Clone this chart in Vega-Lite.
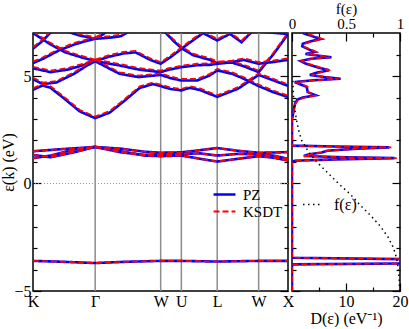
{
"$schema":"https://vega.github.io/schema/vega-lite/v6.json",
"padding":{"left":0,"top":0,"right":0,"bottom":0},
"bounds":"flush",
"spacing":4,
"resolve":{"scale":{"color":"independent","strokeDash":"independent","strokeWidth":"independent"}},
"config":{
 "font":"Liberation Serif",
 "view":{"stroke":"black","strokeWidth":1.5},
 "axis":{"labelFont":"Liberation Serif","titleFont":"Liberation Serif","labelFontSize":16,"titleFontSize":16,"titleFontWeight":"normal","labelColor":"black","titleColor":"black","tickColor":"black","tickWidth":1.2,"domain":false,"grid":false},
 "legend":{"labelFont":"Liberation Serif","labelFontSize":16,"labelColor":"black"}
},
"datasets":{
 "sym":[{"k":1.061},{"k":2.179},{"k":2.532},{"k":3.144},{"k":3.851}],
 "bands":[
  {"b":"f","k":0,"PZ":-3.6,"KSDT":-3.6},{"b":"f","k":0.5,"PZ":-3.64,"KSDT":-3.64},{"b":"f","k":1.061,"PZ":-3.7,"KSDT":-3.7},{"b":"f","k":1.6,"PZ":-3.64,"KSDT":-3.64},{"b":"f","k":2.179,"PZ":-3.6,"KSDT":-3.6},{"b":"f","k":2.532,"PZ":-3.6,"KSDT":-3.6},{"b":"f","k":3.144,"PZ":-3.63,"KSDT":-3.63},{"b":"f","k":3.851,"PZ":-3.6,"KSDT":-3.6},{"b":"f","k":4.352,"PZ":-3.6,"KSDT":-3.6},
  {"b":"d1","k":0,"PZ":1.18,"KSDT":1.18},{"b":"d1","k":0.3,"PZ":1.3,"KSDT":1.3},{"b":"d1","k":0.7,"PZ":1.58,"KSDT":1.58},{"b":"d1","k":1.061,"PZ":1.7,"KSDT":1.7},{"b":"d1","k":1.5,"PZ":1.5,"KSDT":1.5},{"b":"d1","k":1.9,"PZ":1.3,"KSDT":1.3},{"b":"d1","k":2.179,"PZ":1.27,"KSDT":1.27},{"b":"d1","k":2.532,"PZ":1.3,"KSDT":1.3},{"b":"d1","k":2.85,"PZ":1.15,"KSDT":1.15},{"b":"d1","k":3.144,"PZ":1.02,"KSDT":1.02},{"b":"d1","k":3.5,"PZ":1.15,"KSDT":1.15},{"b":"d1","k":3.851,"PZ":1.27,"KSDT":1.27},{"b":"d1","k":4.1,"PZ":1.2,"KSDT":1.2},{"b":"d1","k":4.352,"PZ":1.07,"KSDT":1.07},
  {"b":"d2","k":0,"PZ":1.33,"KSDT":1.33},{"b":"d2","k":0.3,"PZ":1.22,"KSDT":1.22},{"b":"d2","k":0.7,"PZ":1.45,"KSDT":1.45},{"b":"d2","k":1.061,"PZ":1.7,"KSDT":1.7},{"b":"d2","k":1.5,"PZ":1.45,"KSDT":1.45},{"b":"d2","k":1.9,"PZ":1.33,"KSDT":1.33},{"b":"d2","k":2.179,"PZ":1.35,"KSDT":1.35},{"b":"d2","k":2.532,"PZ":1.38,"KSDT":1.38},{"b":"d2","k":2.85,"PZ":1.4,"KSDT":1.4},{"b":"d2","k":3.144,"PZ":1.3,"KSDT":1.3},{"b":"d2","k":3.5,"PZ":1.38,"KSDT":1.38},{"b":"d2","k":3.851,"PZ":1.35,"KSDT":1.35},{"b":"d2","k":4.1,"PZ":1.3,"KSDT":1.3},{"b":"d2","k":4.352,"PZ":1.15,"KSDT":1.15},
  {"b":"d3","k":0,"PZ":1.5,"KSDT":1.5},{"b":"d3","k":0.5,"PZ":1.6,"KSDT":1.6},{"b":"d3","k":1.061,"PZ":1.7,"KSDT":1.7},{"b":"d3","k":1.5,"PZ":1.62,"KSDT":1.62},{"b":"d3","k":1.9,"PZ":1.48,"KSDT":1.48},{"b":"d3","k":2.179,"PZ":1.43,"KSDT":1.43},{"b":"d3","k":2.532,"PZ":1.45,"KSDT":1.45},{"b":"d3","k":2.85,"PZ":1.55,"KSDT":1.55},{"b":"d3","k":3.144,"PZ":1.65,"KSDT":1.65},{"b":"d3","k":3.5,"PZ":1.52,"KSDT":1.52},{"b":"d3","k":3.851,"PZ":1.43,"KSDT":1.43},{"b":"d3","k":4.1,"PZ":1.44,"KSDT":1.44},{"b":"d3","k":4.352,"PZ":1.46,"KSDT":1.46},
  {"b":"c1","k":0,"PZ":4.36,"KSDT":4.43},{"b":"c1","k":0.166,"PZ":4.56,"KSDT":4.63},{"b":"c1","k":0.3,"PZ":4.45,"KSDT":4.52},{"b":"c1","k":0.51,"PZ":4.0,"KSDT":4.07},{"b":"c1","k":0.8,"PZ":3.35,"KSDT":3.42},{"b":"c1","k":1.061,"PZ":3.04,"KSDT":3.11},{"b":"c1","k":1.31,"PZ":3.3,"KSDT":3.37},{"b":"c1","k":1.567,"PZ":3.86,"KSDT":3.93},{"b":"c1","k":1.823,"PZ":4.45,"KSDT":4.52},{"b":"c1","k":2.045,"PZ":4.62,"KSDT":4.69},{"b":"c1","k":2.179,"PZ":4.53,"KSDT":4.6},{"b":"c1","k":2.336,"PZ":4.4,"KSDT":4.47},{"b":"c1","k":2.532,"PZ":4.33,"KSDT":4.4},{"b":"c1","k":2.675,"PZ":4.45,"KSDT":4.52},{"b":"c1","k":2.847,"PZ":4.35,"KSDT":4.42},{"b":"c1","k":3.144,"PZ":4.03,"KSDT":4.1},{"b":"c1","k":3.5,"PZ":4.41,"KSDT":4.48},{"b":"c1","k":3.851,"PZ":5.05,"KSDT":5.12},{"b":"c1","k":4.1,"PZ":4.8,"KSDT":4.87},{"b":"c1","k":4.352,"PZ":4.54,"KSDT":4.61},
  {"b":"u1","k":0,"PZ":7.0,"KSDT":7.07},{"b":"u1","k":0.28,"PZ":6.5,"KSDT":6.57},{"b":"u1","k":0.55,"PZ":6.1,"KSDT":6.17},{"b":"u1","k":0.85,"PZ":5.85,"KSDT":5.92},{"b":"u1","k":1.061,"PZ":5.69,"KSDT":5.76},
  {"b":"u2","k":0,"PZ":6.27,"KSDT":6.34},{"b":"u2","k":0.15,"PZ":6.6,"KSDT":6.67},{"b":"u2","k":0.31,"PZ":7.05,"KSDT":7.12},
  {"b":"u3","k":0,"PZ":5.36,"KSDT":5.43},{"b":"u3","k":0.3,"PZ":5.18,"KSDT":5.25},{"b":"u3","k":0.6,"PZ":5.3,"KSDT":5.37},{"b":"u3","k":0.85,"PZ":5.5,"KSDT":5.57},{"b":"u3","k":1.061,"PZ":5.69,"KSDT":5.76},
  {"b":"u4","k":0,"PZ":5.6,"KSDT":5.67},{"b":"u4","k":0.17,"PZ":5.8,"KSDT":5.87},{"b":"u4","k":0.45,"PZ":6.2,"KSDT":6.27},{"b":"u4","k":0.74,"PZ":6.5,"KSDT":6.57},{"b":"u4","k":1.061,"PZ":6.73,"KSDT":6.8},
  {"b":"u5","k":0,"PZ":4.85,"KSDT":4.92},{"b":"u5","k":0.17,"PZ":4.62,"KSDT":4.69},{"b":"u5","k":0.4,"PZ":4.7,"KSDT":4.77},{"b":"u5","k":0.7,"PZ":5.1,"KSDT":5.17},{"b":"u5","k":0.9,"PZ":5.45,"KSDT":5.52},{"b":"u5","k":1.061,"PZ":5.69,"KSDT":5.76},
  {"b":"u6","k":0.6,"PZ":7.05,"KSDT":7.12},{"b":"u6","k":0.8,"PZ":6.88,"KSDT":6.95},{"b":"u6","k":1.061,"PZ":6.73,"KSDT":6.8},
  {"b":"r0","k":1.061,"PZ":6.73,"KSDT":6.8},{"b":"r0","k":1.15,"PZ":6.85,"KSDT":6.92},{"b":"r0","k":1.25,"PZ":7.05,"KSDT":7.12},
  {"b":"r1","k":1.061,"PZ":6.73,"KSDT":6.8},{"b":"r1","k":1.3,"PZ":6.78,"KSDT":6.85},{"b":"r1","k":1.5,"PZ":6.85,"KSDT":6.92},{"b":"r1","k":1.62,"PZ":7.05,"KSDT":7.12},
  {"b":"r2","k":1.061,"PZ":5.69,"KSDT":5.76},{"b":"r2","k":1.3,"PZ":5.9,"KSDT":5.97},{"b":"r2","k":1.55,"PZ":6.05,"KSDT":6.12},{"b":"r2","k":1.75,"PZ":6.1,"KSDT":6.17},{"b":"r2","k":2.0,"PZ":5.75,"KSDT":5.82},{"b":"r2","k":2.179,"PZ":5.57,"KSDT":5.64},{"b":"r2","k":2.35,"PZ":5.88,"KSDT":5.95},{"b":"r2","k":2.532,"PZ":6.26,"KSDT":6.33},{"b":"r2","k":2.75,"PZ":6.7,"KSDT":6.77},{"b":"r2","k":2.93,"PZ":7.05,"KSDT":7.12},
  {"b":"r3","k":1.061,"PZ":5.69,"KSDT":5.76},{"b":"r3","k":1.48,"PZ":5.49,"KSDT":5.56},{"b":"r3","k":1.8,"PZ":5.3,"KSDT":5.37},{"b":"r3","k":2.179,"PZ":5.18,"KSDT":5.25},{"b":"r3","k":2.3,"PZ":5.28,"KSDT":5.35},{"b":"r3","k":2.532,"PZ":5.41,"KSDT":5.48},{"b":"r3","k":2.8,"PZ":5.5,"KSDT":5.57},{"b":"r3","k":3.02,"PZ":5.52,"KSDT":5.59},{"b":"r3","k":3.144,"PZ":5.57,"KSDT":5.64},{"b":"r3","k":3.4,"PZ":5.65,"KSDT":5.72},{"b":"r3","k":3.6,"PZ":5.75,"KSDT":5.82},{"b":"r3","k":3.851,"PZ":5.57,"KSDT":5.64},{"b":"r3","k":4.1,"PZ":5.65,"KSDT":5.72},{"b":"r3","k":4.352,"PZ":5.75,"KSDT":5.82},
  {"b":"r4","k":1.061,"PZ":5.69,"KSDT":5.76},{"b":"r4","k":1.3,"PZ":5.35,"KSDT":5.42},{"b":"r4","k":1.48,"PZ":5.1,"KSDT":5.17},{"b":"r4","k":1.8,"PZ":4.95,"KSDT":5.02},{"b":"r4","k":2.179,"PZ":5.05,"KSDT":5.12},{"b":"r4","k":2.35,"PZ":4.9,"KSDT":4.97},{"b":"r4","k":2.532,"PZ":4.79,"KSDT":4.86},{"b":"r4","k":2.8,"PZ":4.79,"KSDT":4.86},{"b":"r4","k":3.02,"PZ":5.03,"KSDT":5.1},{"b":"r4","k":3.144,"PZ":5.26,"KSDT":5.33},{"b":"r4","k":3.4,"PZ":5.1,"KSDT":5.17},{"b":"r4","k":3.6,"PZ":4.87,"KSDT":4.94},{"b":"r4","k":3.851,"PZ":4.53,"KSDT":4.6},{"b":"r4","k":4.1,"PZ":4.25,"KSDT":4.32},{"b":"r4","k":4.352,"PZ":4.02,"KSDT":4.09},
  {"b":"r5","k":2.25,"PZ":7.05,"KSDT":7.12},{"b":"r5","k":2.39,"PZ":6.65,"KSDT":6.72},{"b":"r5","k":2.532,"PZ":6.3,"KSDT":6.37},{"b":"r5","k":2.73,"PZ":5.97,"KSDT":6.04},{"b":"r5","k":3.02,"PZ":5.75,"KSDT":5.82},{"b":"r5","k":3.144,"PZ":5.6,"KSDT":5.67},{"b":"r5","k":3.4,"PZ":5.62,"KSDT":5.69},{"b":"r5","k":3.6,"PZ":5.45,"KSDT":5.52},{"b":"r5","k":3.851,"PZ":5.18,"KSDT":5.25},{"b":"r5","k":4.1,"PZ":6.0,"KSDT":6.07},{"b":"r5","k":4.352,"PZ":6.95,"KSDT":7.02},
  {"b":"r6","k":2.9,"PZ":7.05,"KSDT":7.12},{"b":"r6","k":2.93,"PZ":6.96,"KSDT":7.03},{"b":"r6","k":3.144,"PZ":6.65,"KSDT":6.72},{"b":"r6","k":3.36,"PZ":6.96,"KSDT":7.03},{"b":"r6","k":3.56,"PZ":6.57,"KSDT":6.64},{"b":"r6","k":3.73,"PZ":7.05,"KSDT":7.12},
  {"b":"r7","k":3.95,"PZ":7.05,"KSDT":7.12},{"b":"r7","k":4.352,"PZ":6.95,"KSDT":7.02}
 ],
 "dos":[
  {"e":7.0,"PZ":2.0,"KSDT":2.3},{"e":6.9,"PZ":3.2,"KSDT":3.6},{"e":6.8,"PZ":4.3,"KSDT":4.8},{"e":6.72,"PZ":5.3,"KSDT":5.6},{"e":6.62,"PZ":3.5,"KSDT":3.9},{"e":6.5,"PZ":2.0,"KSDT":2.4},{"e":6.38,"PZ":1.9,"KSDT":2.1},{"e":6.25,"PZ":3.0,"KSDT":3.3},{"e":6.12,"PZ":4.2,"KSDT":4.5},{"e":6.02,"PZ":2.5,"KSDT":2.8},{"e":5.94,"PZ":5.0,"KSDT":5.4},{"e":5.87,"PZ":7.3,"KSDT":7.0},{"e":5.8,"PZ":3.5,"KSDT":3.8},{"e":5.7,"PZ":1.6,"KSDT":1.8},{"e":5.58,"PZ":2.5,"KSDT":2.8},{"e":5.48,"PZ":3.8,"KSDT":4.2},{"e":5.38,"PZ":5.0,"KSDT":5.4},{"e":5.27,"PZ":6.9,"KSDT":6.7},{"e":5.15,"PZ":4.5,"KSDT":5.0},{"e":5.05,"PZ":3.3,"KSDT":3.6},{"e":4.95,"PZ":6.0,"KSDT":6.5},{"e":4.87,"PZ":9.0,"KSDT":8.6},{"e":4.8,"PZ":4.0,"KSDT":4.5},{"e":4.72,"PZ":0.5,"KSDT":0.7},{"e":4.62,"PZ":1.5,"KSDT":1.7},{"e":4.5,"PZ":2.7,"KSDT":2.9},{"e":4.4,"PZ":2.8,"KSDT":2.9},{"e":4.25,"PZ":2.9,"KSDT":3.0},{"e":4.1,"PZ":4.4,"KSDT":4.3},{"e":4.0,"PZ":2.0,"KSDT":2.4},{"e":3.9,"PZ":1.0,"KSDT":1.2},{"e":3.7,"PZ":0.55,"KSDT":0.6},{"e":3.4,"PZ":0.3,"KSDT":0.35},{"e":3.1,"PZ":0.1,"KSDT":0.1},{"e":3.0,"PZ":0,"KSDT":0},{"e":1.76,"PZ":0,"KSDT":0},{"e":1.72,"PZ":8,"KSDT":8},{"e":1.68,"PZ":18,"KSDT":18.4},{"e":1.62,"PZ":12,"KSDT":12},{"e":1.52,"PZ":6.5,"KSDT":6.5},{"e":1.44,"PZ":5.5,"KSDT":5.5},{"e":1.35,"PZ":3,"KSDT":3},{"e":1.28,"PZ":2.2,"KSDT":2.2},{"e":1.22,"PZ":10,"KSDT":10},{"e":1.18,"PZ":19,"KSDT":19.4},{"e":1.12,"PZ":8,"KSDT":8},{"e":1.06,"PZ":0.5,"KSDT":0.5},{"e":1.0,"PZ":0,"KSDT":0},{"e":-3.45,"PZ":0,"KSDT":0},{"e":-3.55,"PZ":30,"KSDT":30},{"e":-3.62,"PZ":40,"KSDT":40},{"e":-3.7,"PZ":30,"KSDT":30},{"e":-3.76,"PZ":0,"KSDT":0},{"e":-5,"PZ":0,"KSDT":0}
 ],
 "fermi":[
  {"e":5.0,"f":0.007,"lab":"f(ε)"},{"e":4.5,"f":0.01,"lab":"f(ε)"},{"e":4.0,"f":0.015,"lab":"f(ε)"},{"e":3.5,"f":0.025,"lab":"f(ε)"},{"e":3.0,"f":0.04,"lab":"f(ε)"},{"e":2.5,"f":0.06,"lab":"f(ε)"},{"e":2.0,"f":0.09,"lab":"f(ε)"},{"e":1.5,"f":0.15,"lab":"f(ε)"},{"e":1.0,"f":0.23,"lab":"f(ε)"},{"e":0.5,"f":0.33,"lab":"f(ε)"},{"e":0.0,"f":0.43,"lab":"f(ε)"},{"e":-0.5,"f":0.54,"lab":"f(ε)"},{"e":-1.0,"f":0.63,"lab":"f(ε)"},{"e":-1.5,"f":0.73,"lab":"f(ε)"},{"e":-2.0,"f":0.82,"lab":"f(ε)"},{"e":-2.5,"f":0.89,"lab":"f(ε)"},{"e":-3.0,"f":0.94,"lab":"f(ε)"},{"e":-3.5,"f":0.97,"lab":"f(ε)"},{"e":-4.0,"f":0.985,"lab":"f(ε)"},{"e":-4.5,"f":0.993,"lab":"f(ε)"},{"e":-5.0,"f":0.997,"lab":"f(ε)"}
 ]
},
"hconcat":[
 {
  "width":255,"height":258,
  "resolve":{"axis":{"x":"independent","y":"independent"}},
  "layer":[
   {"data":{"name":"sym"},"mark":{"type":"rule","color":"#8c8c8c","strokeWidth":1.5},
    "encoding":{"x":{"field":"k","type":"quantitative","scale":{"domain":[0,4.352],"nice":false,"zero":false},"axis":null}}},
   {"data":{"values":[{"e":0}]},"mark":{"type":"rule","color":"#999999","strokeDash":[1,2],"strokeWidth":1.2},
    "encoding":{"y":{"field":"e","type":"quantitative","scale":{"domain":[-5,7],"nice":false,"zero":false},"axis":null}}},
   {"data":{"name":"bands"},"transform":[{"fold":["PZ","KSDT"],"as":["s","e"]},{"filter":"datum.s==='PZ'"}],
    "mark":{"type":"line","clip":true},
    "encoding":{"x":{"field":"k","type":"quantitative",
      "axis":{"orient":"bottom","values":[0,1.061,2.179,2.532,3.144,3.851,4.352],"labelExpr":"datum.value==0?'K':datum.value==1.061?'Γ':datum.value==2.179?'W':datum.value==2.532?'U':datum.value==3.144?'L':datum.value==3.851?'W':'X'","ticks":false,"labelPadding":2,"title":null,"labelFlush":false,"labelOverlap":false}},
     "y":{"field":"e","type":"quantitative","axis":{"orient":"left","values":[-5,0,5],"tickSize":-8,"labelPadding":10,"title":"ε(k) (eV)","titlePadding":-3}},
     "detail":{"field":"b"},"order":{"field":"k","type":"quantitative"},
     "color":{"field":"s","type":"nominal","scale":{"domain":["PZ","KSDT"],"range":["#0000ff","#ff0000"]},"legend":{"orient":"none","legendX":179,"legendY":155,"title":null,"symbolType":"stroke","symbolSize":480,"clipHeight":13,"rowPadding":1,"labelOffset":6,"labelFontSize":15}},
     "strokeDash":{"field":"s","type":"nominal","scale":{"domain":["PZ","KSDT"],"range":[[1,0],[6,3]]}},
     "strokeWidth":{"field":"s","type":"nominal","scale":{"domain":["PZ","KSDT"],"range":[2.6,1.8]}}}},
   {"data":{"name":"bands"},"transform":[{"fold":["PZ","KSDT"],"as":["s","e"]},{"filter":"datum.s==='KSDT'"}],
    "mark":{"type":"line","clip":true},
    "encoding":{"x":{"field":"k","type":"quantitative","axis":null},
     "y":{"field":"e","type":"quantitative","axis":{"orient":"left","values":[-4,-3,-2,-1,1,2,3,4,6],"tickSize":-4,"labels":false,"title":null}},
     "detail":{"field":"b"},"order":{"field":"k","type":"quantitative"},
     "color":{"field":"s","type":"nominal","scale":{"domain":["PZ","KSDT"],"range":["#0000ff","#ff0000"]}},
     "strokeDash":{"field":"s","type":"nominal","scale":{"domain":["PZ","KSDT"],"range":[[1,0],[6,3]]}},
     "strokeWidth":{"field":"s","type":"nominal","scale":{"domain":["PZ","KSDT"],"range":[2.6,1.8]}}}},
   {"data":{"values":[{"k":0,"e":0}]},"mark":{"type":"point","opacity":0},
    "encoding":{"x":{"field":"k","type":"quantitative","axis":null},
     "y":{"field":"e","type":"quantitative","axis":{"orient":"right","values":[-5,0,5],"tickSize":-8,"labels":false,"title":null}}}},
   {"data":{"values":[{"k":0,"e":0}]},"mark":{"type":"point","opacity":0},
    "encoding":{"x":{"field":"k","type":"quantitative","axis":null},
     "y":{"field":"e","type":"quantitative","axis":{"orient":"right","values":[-4,-3,-2,-1,1,2,3,4,6],"tickSize":-4,"labels":false,"title":null}}}}
  ]
 },
 {
  "width":108,"height":258,
  "resolve":{"scale":{"x":"independent","strokeDash":"independent"},"axis":{"x":"independent","y":"independent"}},
  "layer":[
   {"data":{"name":"dos"},"transform":[{"fold":["PZ","KSDT"],"as":["s","d"]},{"filter":"datum.s==='PZ'"}],
    "mark":{"type":"line","clip":true,"color":"#0000ff","strokeWidth":2.6},
    "encoding":{"x":{"field":"d","type":"quantitative","scale":{"domain":[0,20],"nice":false,"zero":false},"axis":{"orient":"bottom","values":[10,20],"tickSize":-8,"labelPadding":10,"labelFlush":false,"title":"D(ε)  (eV⁻¹)","titlePadding":1}},
     "y":{"field":"e","type":"quantitative","scale":{"domain":[-5,7],"nice":false,"zero":false},"axis":{"orient":"left","values":[-5,0,5],"tickSize":-8,"labels":false,"title":null}},
     "order":{"field":"e","type":"quantitative"}}},
   {"data":{"name":"dos"},"transform":[{"fold":["PZ","KSDT"],"as":["s","d"]},{"filter":"datum.s==='KSDT'"}],
    "mark":{"type":"line","clip":true,"color":"#ff0000","strokeWidth":1.8,"strokeDash":[6,3]},
    "encoding":{"x":{"field":"d","type":"quantitative","scale":{"domain":[0,20],"nice":false,"zero":false},"axis":{"orient":"bottom","values":[5,15],"tickSize":-4,"labels":false,"title":null}},
     "y":{"field":"e","type":"quantitative","axis":{"orient":"left","values":[-4,-3,-2,-1,1,2,3,4,6],"tickSize":-4,"labels":false,"title":null}},
     "order":{"field":"e","type":"quantitative"}}},
   {"data":{"name":"fermi"},
    "mark":{"type":"line","color":"black","strokeWidth":1.5},
    "encoding":{"x":{"field":"f","type":"quantitative","scale":{"domain":[0,1],"nice":false,"zero":false},"axis":{"orient":"top","values":[0,0.5,1],"format":"~g","tickSize":-8,"labelPadding":10,"labelFlush":false,"labelFontSize":15,"title":"f(ε)","titleFontSize":15,"titlePadding":0}},
     "y":{"field":"e","type":"quantitative","axis":{"orient":"right","values":[-5,0,5],"tickSize":-8,"labels":false,"title":null}},
     "order":{"field":"e","type":"quantitative"},
     "strokeDash":{"field":"lab","type":"nominal","scale":{"domain":["f(ε)"],"range":[[1.5,3.5]]},"legend":{"orient":"none","legendX":10,"legendY":162,"title":null,"symbolType":"stroke","symbolSize":289,"symbolStrokeColor":"black","symbolStrokeWidth":1.5,"labelOffset":13,"labelFontSize":16}}}},
   {"data":{"values":[{"e":0,"f":0.5}]},"mark":{"type":"point","opacity":0},
    "encoding":{"x":{"field":"f","type":"quantitative","scale":{"domain":[0,1],"nice":false,"zero":false},"axis":{"orient":"top","values":[0.25,0.75],"tickSize":-4,"labels":false,"title":null}},
     "y":{"field":"e","type":"quantitative","axis":{"orient":"right","values":[-4,-3,-2,-1,1,2,3,4,6],"tickSize":-4,"labels":false,"title":null}}}}
  ]
 }
]
}
